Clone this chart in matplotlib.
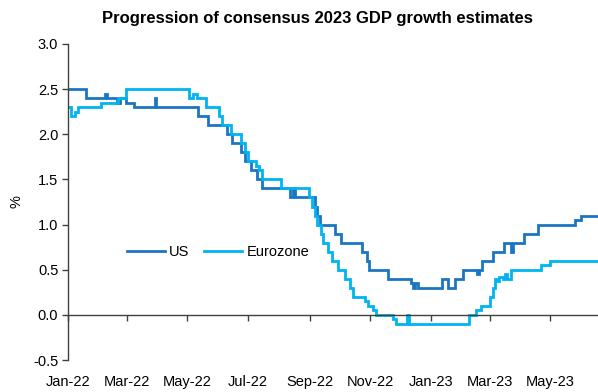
import matplotlib
matplotlib.use("Agg")
import matplotlib.pyplot as plt
import pandas as pd

plt.rcParams['font.family'] = ['Liberation Sans', 'DejaVu Sans']

# Consensus 2023 GDP growth estimates (%), value holds from each date until the next
us_dates = ["2022-01-01", "2022-01-19", "2022-02-07", "2022-02-09", "2022-02-19", "2022-02-22",
            "2022-02-28", "2022-03-08", "2022-03-29", "2022-03-31", "2022-05-12", "2022-05-22",
            "2022-06-10", "2022-06-15", "2022-06-24", "2022-06-28", "2022-07-04", "2022-07-10",
            "2022-07-15", "2022-08-12", "2022-08-15", "2022-08-17", "2022-09-06", "2022-09-08",
            "2022-09-11", "2022-09-27", "2022-10-03", "2022-10-24", "2022-10-29", "2022-10-31",
            "2022-11-19", "2022-12-12", "2022-12-14", "2022-12-16", "2022-12-19", "2023-01-12",
            "2023-01-18", "2023-01-25", "2023-02-02", "2023-02-16", "2023-02-18", "2023-02-21",
            "2023-03-04", "2023-03-15", "2023-03-23", "2023-03-25", "2023-04-05", "2023-04-19",
            "2023-05-26", "2023-06-01", "2023-06-18"]
us_values = [2.5, 2.4, 2.45, 2.4, 2.35, 2.4,
             2.35, 2.3, 2.4, 2.3, 2.2, 2.1,
             2.0, 1.9, 1.8, 1.7, 1.6, 1.5,
             1.4, 1.3, 1.4, 1.3, 1.2, 1.1,
             1.0, 0.9, 0.8, 0.7, 0.6, 0.5,
             0.4, 0.35, 0.3, 0.35, 0.3, 0.4,
             0.3, 0.4, 0.5, 0.45, 0.5, 0.6,
             0.7, 0.8, 0.7, 0.8, 0.9, 1.0,
             1.05, 1.1, 1.1]

ez_dates = ["2022-01-01", "2022-01-04", "2022-01-08", "2022-01-11", "2022-02-03", "2022-02-20",
            "2022-02-28", "2022-05-03", "2022-05-07", "2022-05-11", "2022-05-20", "2022-06-02",
            "2022-06-05", "2022-06-14", "2022-06-24", "2022-06-28", "2022-07-01", "2022-07-09",
            "2022-07-12", "2022-07-15", "2022-08-03", "2022-08-31", "2022-09-03", "2022-09-06",
            "2022-09-08", "2022-09-12", "2022-09-14", "2022-09-19", "2022-09-24", "2022-09-30",
            "2022-10-07", "2022-10-12", "2022-10-15", "2022-10-27", "2022-10-30", "2022-11-04",
            "2022-11-07", "2022-11-24", "2022-11-27", "2022-12-08", "2022-12-10", "2023-02-08",
            "2023-02-15", "2023-02-20", "2023-03-01", "2023-03-04", "2023-03-06", "2023-03-08",
            "2023-03-10", "2023-03-14", "2023-03-16", "2023-03-18", "2023-03-23", "2023-04-22",
            "2023-05-01", "2023-06-18"]
ez_values = [2.3, 2.2, 2.25, 2.3, 2.35, 2.4,
             2.5, 2.4, 2.45, 2.4, 2.3, 2.2,
             2.1, 2.0, 1.9, 1.8, 1.7, 1.65,
             1.6, 1.5, 1.4, 1.3, 1.2, 1.1,
             1.0, 0.9, 0.8, 0.7, 0.6, 0.5,
             0.4, 0.3, 0.2, 0.15, 0.1, 0.05,
             0.0, -0.05, -0.1, 0.0, -0.1, 0.0,
             0.05, 0.1, 0.2, 0.3, 0.4, 0.37,
             0.42, 0.4, 0.45, 0.4, 0.5, 0.55,
             0.6, 0.6]

tick_dates = ["2022-01-01", "2022-03-01", "2022-05-01", "2022-07-01", "2022-09-01",
              "2022-11-01", "2023-01-01", "2023-03-01", "2023-05-01"]
tick_labels = ["Jan-22", "Mar-22", "May-22", "Jul-22", "Sep-22",
               "Nov-22", "Jan-23", "Mar-23", "May-23"]
y_ticks = [-0.5, 0.0, 0.5, 1.0, 1.5, 2.0, 2.5, 3.0]

US_COLOR = "#1B75C2"
EZ_COLOR = "#00B4F0"
AXIS_COLOR = "#404040"

fig = plt.figure(figsize=(5.98, 3.92), dpi=100)
ax = fig.add_axes([0.1137, 0.0816, 0.8863, 0.8062])

ax.plot(pd.to_datetime(us_dates), us_values, drawstyle="steps-post",
        color=US_COLOR, lw=2.0, label="US", solid_joinstyle="miter")
ax.plot(pd.to_datetime(ez_dates), ez_values, drawstyle="steps-post",
        color=EZ_COLOR, lw=2.0, label="Eurozone", solid_joinstyle="miter")

ax.set_xlim(pd.Timestamp("2022-01-01"), pd.Timestamp("2023-06-18"))
ax.set_ylim(-0.5, 3.0)
ax.set_yticks(y_ticks)
ax.set_yticklabels([f"{v:.1f}" for v in y_ticks])
ax.set_xticks(pd.to_datetime(tick_dates))
ax.set_xticklabels(tick_labels)

for side in ("top", "right"):
    ax.spines[side].set_visible(False)
ax.spines["left"].set_color(AXIS_COLOR)
ax.spines["left"].set_linewidth(1.0)
ax.spines["bottom"].set_position(("data", 0))
ax.spines["bottom"].set_color(AXIS_COLOR)
ax.spines["bottom"].set_linewidth(1.0)

ax.tick_params(axis="y", direction="out", length=4, width=1, color=AXIS_COLOR,
               labelsize=10.5, labelcolor="black", pad=3)
ax.tick_params(axis="x", direction="out", length=4, width=1, color=AXIS_COLOR,
               labelsize=10.5, labelcolor="black", pad=39)

ax.set_ylabel("%", fontsize=10.5, labelpad=7)

ax.set_title("Progression of consensus 2023 GDP growth estimates",
             fontsize=12, fontweight="bold", pad=15, x=0.47)

ax.legend(loc="center left", bbox_to_anchor=(0.1, 0.342), ncol=2, frameon=False,
          fontsize=10.5, handlelength=2.6, handletextpad=0.3, columnspacing=1.0,
          borderaxespad=0)

fig.savefig("out.png", dpi=100)
